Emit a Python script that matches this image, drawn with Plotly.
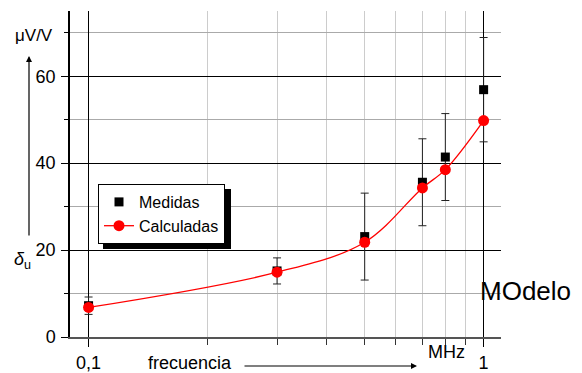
import plotly.graph_objects as go

freq = [0.1, 0.3, 0.5, 0.7, 0.8, 1.0]
medidas = [7.2, 15.2, 23.1, 35.6, 41.4, 56.9]
medidas_err = [2, 3, 10, 10, 10, 12]
calculadas = [6.8, 14.9, 21.8, 34.3, 38.5, 49.8]

x_major = [0.1, 1]
x_major_text = ["0,1", "1"]
x_minor = [0.2, 0.3, 0.4, 0.5, 0.6, 0.7, 0.8, 0.9]
y_major = [0, 20, 40, 60]
y_minor = [10, 30, 50, 70]

FONT = "Liberation Sans, Arial, sans-serif"

# plot area in pixels: x 70..501, y 11..337
L, R, T, B = 70, 501, 11, 337
W, H = 582, 373
def px(x):
    return (x - L) / (R - L)
def py(y):
    return (B - y) / (B - T)

fig = go.Figure()
fig.add_trace(go.Scatter(
    x=freq, y=medidas, mode="markers", name="Medidas",
    marker=dict(symbol="square", size=9, color="black"),
    error_y=dict(type="data", array=medidas_err, color="#222", thickness=1, width=4),
))
fig.add_trace(go.Scatter(
    x=freq, y=calculadas, mode="lines+markers", name="Calculadas",
    line=dict(color="red", width=1.3, shape="spline", smoothing=1.0),
    marker=dict(symbol="circle", size=11, color="red"),
))

fig.update_layout(
    template="none",
    width=W, height=H,
    margin=dict(l=L, r=W - R, t=T, b=H - B, pad=0, autoexpand=False),
    paper_bgcolor="white", plot_bgcolor="white",
    font=dict(family=FONT, size=18, color="black"),
    showlegend=True,
    legend=dict(
        x=px(98), y=py(184), xanchor="left", yanchor="top",
        bgcolor="white", bordercolor="black", borderwidth=1,
        font=dict(size=16), tracegroupgap=0, itemwidth=30,
    ),
    xaxis=dict(
        type="log", range=[-1.047, 0.044], automargin=False,
        tickmode="array", tickvals=x_major, ticktext=x_major_text,
        showgrid=True, gridcolor="black", gridwidth=1,
        ticks="outside", ticklen=8, tickcolor="black",
        showline=True, linecolor="#555", linewidth=2,
        zeroline=False,
        minor=dict(tickmode="array", tickvals=x_minor, showgrid=True,
                   gridcolor="#cccccc", gridwidth=1, ticks="outside",
                   ticklen=6, tickcolor="#333"),
        tickfont=dict(size=18),
    ),
    yaxis=dict(
        range=[0, 75], automargin=False,
        tickmode="array", tickvals=y_major,
        showgrid=True, gridcolor="black", gridwidth=1,
        ticks="outside", ticklen=7, tickcolor="black",
        showline=True, linecolor="black", linewidth=1.5,
        zeroline=False,
        minor=dict(tickmode="array", tickvals=y_minor, showgrid=True,
                   gridcolor="#aaaaaa", gridwidth=1, ticks="outside",
                   ticklen=4, tickcolor="black"),
        tickfont=dict(size=18),
        ticklabelstandoff=2,
    ),
)

# legend shadow
fig.add_shape(type="rect", xref="paper", yref="paper",
              x0=px(103), x1=px(231), y0=py(249), y1=py(189),
              fillcolor="black", line=dict(width=0), layer="above")

anns = [
    dict(text="μV/V", x=px(34), y=py(35), font=dict(size=17)),
    dict(text="<i>δ</i><sub>u</sub>", x=px(22), y=py(260), font=dict(size=18)),
    dict(text="frecuencia", x=px(190), y=py(363), font=dict(size=18)),
    dict(text="MHz", x=px(446), y=py(352), font=dict(size=18)),
    dict(text="MOdelo", x=px(525), y=py(291), font=dict(size=26)),
]
for a in anns:
    fig.add_annotation(xref="paper", yref="paper", showarrow=False,
                       xanchor="center", yanchor="middle", **a)

# axis arrows
fig.add_annotation(xref="paper", yref="paper", x=px(29), y=py(56),
                   ax=0, ay=237 - 56, text="", showarrow=True,
                   arrowhead=2, arrowsize=1, arrowwidth=1.2, arrowcolor="black")
fig.add_annotation(xref="paper", yref="paper", x=px(417), y=py(366),
                   ax=243 - 417, ay=0, text="", showarrow=True,
                   arrowhead=2, arrowsize=1, arrowwidth=1.2, arrowcolor="black")

fig.write_html("out.html")
